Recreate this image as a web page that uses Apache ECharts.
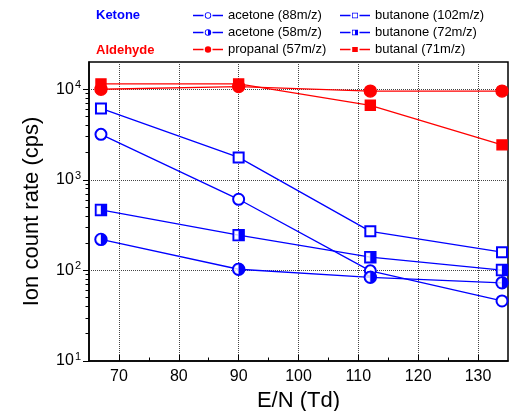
<!DOCTYPE html>
<html>
<head>
<meta charset="utf-8">
<script src="https://cdn.jsdelivr.net/npm/echarts@6/dist/echarts.min.js"></script>
<style>
    html, body { margin: 0; padding: 0; background: #fff; }
    #chart { width: 517px; height: 411px; }
</style>
</head>
<body>
<div id="chart"></div>
<script>
// E/N values (Td)
const enValues = [67, 90, 112, 134]
// ion count rates (cps)
const acetone88 = [3180, 610, 99, 46]
const acetone58 = [220, 103, 84, 73]
const butanone102 = [6150, 1770, 270, 159]
const butanone72 = [465, 245, 140, 101]
const propanal57 = [10000, 10700, 9550, 9550]
const butanal71 = [11450, 11450, 6650, 2430]

// ticks
const xTickLabels = [70, 80, 90, 100, 110, 120, 130]
const xMinorTicks = [75, 85, 95, 105, 115, 125]
const yTickLabels = [10, 100, 1000, 10000]
const yMinorTicks = [20, 30, 40, 50, 60, 70, 80, 90, 200, 300, 400, 500, 600, 700, 800, 900,
    2000, 3000, 4000, 5000, 6000, 7000, 8000, 9000]

const BLUE = '#0000ff'
const RED = '#ff0000'
const FONT = 'Liberation Sans, Arial, sans-serif'

// 半填充符号 (外框 + 右半实心)
const halfCircle = 'path://M0,-10 A10,10 0 1,1 0,10 A10,10 0 1,1 0,-10 Z M0,-8 A8,8 0 1,0 0,8 A8,8 0 1,0 0,-8 Z M0,-10 A10,10 0 0,1 0,10 Z'
const halfSquare = 'path://M-10,-10 L10,-10 L10,10 L-10,10 Z M-8,-8 L-8,8 L8,8 L8,-8 Z M0,-10 L10,-10 L10,10 L0,10 Z'
// 左半白色底, 用来遮住穿过符号的线
const whiteHalfCircle = 'path://M0,-8 A8,8 0 0,0 0,8 Z'
const whiteHalfSquare = 'path://M-8,-8 L0,-8 L0,8 L-8,8 Z'

// 图例图标: 两段线 + 中间的符号 (30 x 7 px, 坐标放大10倍)
const iconLines = 'M0,28.5 L105,28.5 L105,41.5 L0,41.5 Z M195,28.5 L300,28.5 L300,41.5 L195,41.5 Z '
const ringCircle = 'M150,3 A32,32 0 1,1 150,67 A32,32 0 1,1 150,3 Z M150,11 A24,24 0 1,0 150,59 A24,24 0 1,0 150,11 Z '
const ringSquare = 'M120,7 L180,7 L180,63 L120,63 Z M127,14 L127,56 L173,56 L173,14 Z '
const legendIcons = {
    'acetone (88m/z)': 'path://' + iconLines + ringCircle,
    'acetone (58m/z)': 'path://' + iconLines + ringCircle + 'M150,3 A32,32 0 0,1 150,67 Z',
    'propanal (57m/z)': 'path://' + iconLines + 'M150,3 A32,32 0 1,1 150,67 A32,32 0 1,1 150,3 Z',
    'butanone (102m/z)': 'path://' + iconLines + ringSquare,
    'butanone (72m/z)': 'path://' + iconLines + ringSquare + 'M150,7 L180,7 L180,63 L150,63 Z',
    'butanal (71m/z)': 'path://' + iconLines + 'M122,9 L178,9 L178,61 L122,61 Z'
}
const legendItems = names => names.map(name => ({ name, icon: legendIcons[name] }))

const pairs = vals => enValues.map((x, i) => [x, vals[i]])

const lineSeries = (name, vals, color, symbol, size) => ({
    name,
    type: 'line',
    data: pairs(vals),
    symbol,
    symbolSize: size,
    showAllSymbol: true,
    lineStyle: { color, width: 1.3 },
    itemStyle: { color, borderColor: color, borderWidth: 1.4 },
    emphasis: { disabled: true },
    z: 2
})

const whiteCover = (vals, symbol, size) => ({
    type: 'scatter',
    data: pairs(vals),
    symbol,
    symbolSize: [size * 0.4, size * 0.8],
    symbolOffset: [-size * 0.2, 0],
    itemStyle: { color: '#fff' },
    silent: true,
    z: 3
})

const chart = echarts.init(document.getElementById('chart'), null, { renderer: 'canvas' })

const legendBase = {
    orient: 'vertical',
    top: 9,
    itemWidth: 30,
    itemHeight: 7,
    itemGap: 4,
    padding: 0,
    selectedMode: false,
    itemStyle: { borderWidth: 0 },
    textStyle: { fontSize: 13, color: '#000', fontFamily: FONT }
}

const options = {
    animation: false,
    backgroundColor: '#fff',
    textStyle: { fontFamily: FONT },
    grid: {
        left: 89, right: 9, top: 62, bottom: 50,
        show: true, borderColor: '#000', borderWidth: 1.5,
        containLabel: false, outerBoundsMode: 'none'
    },
    legend: [
        { ...legendBase, left: 193, data: legendItems(['acetone (88m/z)', 'acetone (58m/z)', 'propanal (57m/z)']) },
        { ...legendBase, left: 340, data: legendItems(['butanone (102m/z)', 'butanone (72m/z)', 'butanal (71m/z)']) }
    ],
    graphic: [
        { type: 'text', left: 96, top: 9, style: { text: 'Ketone', fill: BLUE, font: 'bold 13px ' + FONT } },
        { type: 'text', left: 96, top: 44, style: { text: 'Aldehyde', fill: RED, font: 'bold 13px ' + FONT } }
    ],
    xAxis: [
        {
            type: 'value', min: 65, max: 135, position: 'bottom',
            name: 'E/N (Td)', nameLocation: 'middle', nameGap: 26,
            nameTextStyle: { fontSize: 22, color: '#000' },
            axisLine: { show: true, lineStyle: { color: '#000', width: 1.5 } },
            axisTick: { show: true, inside: true, length: 6, customValues: xTickLabels, lineStyle: { color: '#000' } },
            axisLabel: { customValues: xTickLabels, fontSize: 16, color: '#000', margin: 8 },
            splitLine: { show: true, lineStyle: { type: 'dotted', color: '#444', width: 1 } }
        },
        {
            type: 'value', min: 65, max: 135, position: 'bottom',
            axisLine: { show: false },
            axisTick: { show: true, inside: true, length: 3.5, customValues: xMinorTicks, lineStyle: { color: '#000' } },
            axisLabel: { show: false },
            splitLine: { show: false }
        }
    ],
    yAxis: [
        {
            type: 'log', min: 10, max: 20000, position: 'left',
            name: 'Ion count rate (cps)', nameLocation: 'middle', nameGap: 46,
            nameTextStyle: { fontSize: 22, color: '#000' },
            axisLine: { show: true, lineStyle: { color: '#000', width: 1.5 } },
            axisTick: { show: true, inside: false, length: 6, customValues: yTickLabels, lineStyle: { color: '#000' } },
            axisLabel: {
                customValues: yTickLabels,
                margin: 8,
                formatter: v => '{b|10}{s|' + Math.round(Math.log10(v)) + '}',
                rich: {
                    b: { fontSize: 16, color: '#000', fontFamily: FONT },
                    s: { fontSize: 11, color: '#000', fontFamily: FONT, padding: [0, 0, 8, 1] }
                }
            },
            splitLine: { show: true, lineStyle: { type: 'dotted', color: '#444', width: 1 } }
        },
        {
            type: 'log', min: 10, max: 20000, position: 'left',
            axisLine: { show: false },
            axisTick: { show: true, inside: false, length: 3.5, customValues: yMinorTicks, lineStyle: { color: '#000' } },
            axisLabel: { show: false },
            splitLine: { show: false }
        }
    ],
    series: [
        lineSeries('acetone (88m/z)', acetone88, BLUE, 'emptyCircle', 11),
        lineSeries('butanone (102m/z)', butanone102, BLUE, 'emptyRect', 10),
        lineSeries('acetone (58m/z)', acetone58, BLUE, halfCircle, 12),
        whiteCover(acetone58, whiteHalfCircle, 12),
        lineSeries('butanone (72m/z)', butanone72, BLUE, halfSquare, 11),
        whiteCover(butanone72, whiteHalfSquare, 11),
        lineSeries('propanal (57m/z)', propanal57, RED, 'circle', 12),
        lineSeries('butanal (71m/z)', butanal71, RED, 'rect', 10)
    ]
}

chart.setOption(options)
</script>
</body>
</html>
